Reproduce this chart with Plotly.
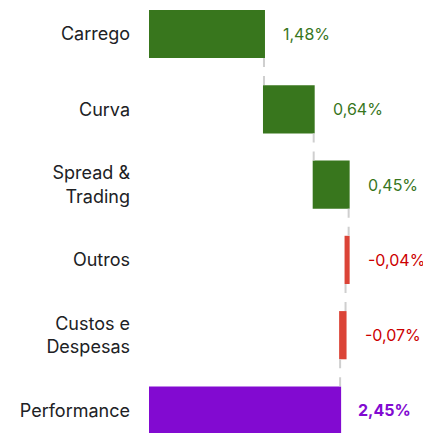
import plotly.graph_objects as go

categories = ["Carrego", "Curva", "Spread &<br>Trading", "Outros", "Custos e<br>Despesas", "Performance"]
values = [1.48, 0.64, 0.45, -0.04, -0.07, 2.45]
measures = ["relative", "relative", "relative", "relative", "relative", "total"]
labels = ["1,48%", "0,64%", "0,45%", "-0,04%", "-0,07%", "2,45%"]

GREEN = "#38761d"
RED = "#db4437"
PURPLE = "#820ad1"
FONT = "Inter"

ypos = list(range(len(categories)))

fig = go.Figure(go.Waterfall(
    orientation="h",
    y=ypos,
    x=values,
    measure=measures,
    width=0.64,
    increasing=dict(marker=dict(color=GREEN)),
    decreasing=dict(marker=dict(color=RED)),
    totals=dict(marker=dict(color=PURPLE)),
    connector=dict(mode="between", line=dict(color="#cfcfcf", width=2, dash="dash")),
    hoverinfo="skip",
))

cum = 0.0
for i, (v, m, lab) in enumerate(zip(values, measures, labels)):
    if m == "total":
        start, end = 0.0, v
    else:
        start, end = cum, cum + v
        cum = end
    right = max(start, end)
    if m == "total":
        color, bold = PURPLE, True
    elif v >= 0:
        color, bold = GREEN, False
    else:
        color, bold = "#cc0000", False
    fig.add_annotation(
        x=right, y=i, text=f"<b>{lab}</b>" if bold else lab,
        xanchor="left", yanchor="middle", xshift=17, showarrow=False,
        font=dict(family=FONT, size=16, color=color),
    )

fig.update_layout(
    width=423, height=425,
    margin=dict(l=141, r=0, t=0, b=0),
    paper_bgcolor="white", plot_bgcolor="white",
    showlegend=False,
    font=dict(family=FONT, size=18, color="#202124"),
    xaxis=dict(range=[0, 3.63], visible=False, fixedrange=True),
    yaxis=dict(
        range=[5.299, -0.345], tickmode="array", tickvals=ypos, ticktext=categories,
        showgrid=False, zeroline=False, showline=False, ticks="",
        ticklabelstandoff=18, tickfont=dict(family=FONT, size=18, color="#202124"),
    ),
)

fig.write_html("out.html")
